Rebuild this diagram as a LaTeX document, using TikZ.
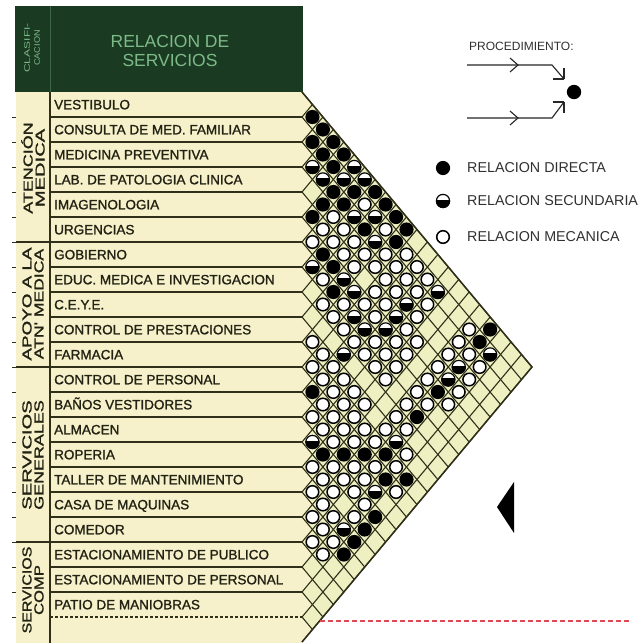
\documentclass[tikz,border=0pt]{standalone}
\usepackage{fontspec}
\setmainfont{Liberation Sans}
\newfontfamily\labelfont[FakeBold=1.3]{Liberation Sans}
\definecolor{hdr}{HTML}{1B3A22}
\definecolor{hdrtxt}{HTML}{7CBB88}
\definecolor{rowfill}{HTML}{F6F1CA}
\definecolor{matfill}{HTML}{EEF0C2}
\definecolor{lineol}{HTML}{30301A}
\definecolor{txt}{HTML}{222214}
\definecolor{legtxt}{HTML}{303030}
\definecolor{reddash}{HTML}{E04858}
\tikzset{
  rowtext/.style={anchor=base west, font=\labelfont\fontsize{13.5}{14}\selectfont, text=txt, inner sep=0pt},
  grouptext/.style={rotate=90, align=center, font=\labelfont\fontsize{13}{12}\selectfont, text=txt, inner sep=0pt},
  gridline/.style={draw=lineol, line width=1.1pt},
  legtext/.style={anchor=west, font=\fontsize{14.3}{15}\selectfont, text=legtxt, inner sep=0pt},
  arrowline/.style={draw=black!85, line width=1.1pt},
}
\newcommand\symB[2]{\fill[black] (#1,#2) circle (7.1);}
\newcommand\symW[2]{\filldraw[fill=white,draw=black,line width=1.5pt] (#1,#2) circle (6.3);}
\newcommand\symH[2]{\fill[black] (#1,#2) circle (7.1);
  \begin{scope}\clip (#1,#2) circle (7.1);
  \fill[white] ({#1-8},{#2-8}) rectangle ({#1+8},{#2-1.5});\end{scope}
  \draw[black,line width=1.1pt] (#1,#2) circle (6.6);}
\begin{document}
\begin{tikzpicture}[x=1pt,y=-1pt]
\useasboundingbox (0,0) rectangle (641,643);
\fill[white] (0,0) rectangle (641,643);
% header
\fill[hdr] (15,6) rectangle (303,92);
\draw[hdrtxt!35!hdr, line width=0.8pt] (50,6) -- (50,92);
\node[align=center, font=\fontsize{17.5}{18.5}\selectfont, text=hdrtxt] (title) at (170,51) {RELACION DE\\SERVICIOS};
\node[rotate=90, align=center, font=\fontsize{8}{10}\selectfont, text=hdrtxt, inner sep=0pt] (clasif) at (32,48) {\scalebox{1.5}[1]{CLASIFI-}\\\scalebox{1.15}[1]{CACION}};
% fills
\fill[rowfill] (16,92) rectangle (302,643);
\fill[matfill] (302,92) -- (532,367) -- (302,642) -- cycle;
\foreach \k in {0,...,21} \fill[rowfill] (302,{92+25*\k}) -- ++(10.45,12.5) -- ++(-10.45,12.5) -- cycle;
% row lines
\foreach \k in {1,...,20} \draw[gridline] (50,{92+25*\k}) -- (302,{92+25*\k});
\draw[gridline, dash pattern=on 3pt off 2pt] (50,617) -- (302,617);
\draw[gridline] (50,92) -- (50,643);
\foreach \yy in {242,367,542} \draw[gridline] (16,\yy) -- (50,\yy);
\foreach \k in {1,...,21} \draw[lineol, line width=0.7pt] (12,{92+25*\k}) -- (16,{92+25*\k});
% matrix grid
\foreach \k in {0,...,22} {
  \draw[gridline] (302,{92+25*\k}) -- ++({10.45*(22-\k)},{12.5*(22-\k)});
  \draw[gridline] (302,{92+25*\k}) -- ++({10.45*\k},{-12.5*\k});
}
\draw[lineol, line width=1.5pt] (302,92) -- (532,367) -- (302,642);
% group labels
\node[grouptext] (g1) at (33,168) {\scalebox{1.38}[1]{ATENCIÓN}\\\scalebox{1.55}[1]{MEDICA}};
\node[grouptext] (g2) at (33,304) {\scalebox{1.45}[1]{APOYO A LA}\\\scalebox{1.35}[1]{ATN' MEDICA}};
\node[grouptext] (g3) at (33,455) {\scalebox{1.55}[1]{SERVICIOS}\\\scalebox{1.38}[1]{GENERALES}};
\node[grouptext] (g4) at (33,590) {\scalebox{1.23}[1]{SERVICIOS}\\\scalebox{1.28}[1]{COMP}};
% row labels
\foreach \k/\t in {0/VESTIBULO,1/CONSULTA DE MED. FAMILIAR,2/MEDICINA PREVENTIVA,3/LAB. DE PATOLOGIA CLINICA,4/IMAGENOLOGIA,5/URGENCIAS,6/GOBIERNO,7/EDUC. MEDICA E INVESTIGACION,8/C.E.Y.E.,9/CONTROL DE PRESTACIONES,10/FARMACIA,11/CONTROL DE PERSONAL,12/BAÑOS VESTIDORES,13/ALMACEN,14/ROPERIA,15/TALLER DE MANTENIMIENTO,16/CASA DE MAQUINAS,17/COMEDOR,18/ESTACIONAMIENTO DE PUBLICO,19/ESTACIONAMIENTO DE PERSONAL,20/PATIO DE MANIOBRAS}
  \node[rowtext] (r\k) at (54,{92+25*\k+17.3}) {\t};
% symbols
\foreach \i/\j in {0/1,0/2,0/3,0/4,0/7,0/8,0/9,0/10,0/18,1/2,1/3,1/4,1/6,1/10,1/18,2/5,2/6,2/8,3/5,4/5,5/7,5/8,5/18,6/9,7/18,10/18,10/20,11/12,11/17,11/19,12/16,13/15,13/20,14/20,15/20,16/20}{
  \pgfmathsetmacro\cx{302+(\j-\i)*10.45}\pgfmathsetmacro\cy{92+(\i+\j+1)*12.5}\symB{\cx}{\cy}}
\foreach \i/\j in {0/5,0/6,1/5,1/8,1/14,1/19,2/3,2/4,2/7,2/9,3/13,3/18,4/13,4/18,5/9,5/10,5/13,6/7,6/11,6/12,8/12,9/18,12/19,13/14,15/19}{
  \pgfmathsetmacro\cx{302+(\j-\i)*10.45}\pgfmathsetmacro\cy{92+(\i+\j+1)*12.5}\symH{\cx}{\cy}}
\foreach \i/\j in {1/7,1/9,1/11,1/12,1/13,1/17,2/10,2/11,2/12,2/13,2/14,2/17,2/18,2/19,3/6,3/7,3/8,3/9,3/10,3/11,3/12,3/14,3/17,3/19,4/6,4/7,4/8,4/9,4/11,4/12,4/14,4/15,4/17,4/19,5/6,5/11,5/12,5/14,5/15,5/17,5/19,6/8,6/10,6/13,6/14,6/15,6/17,6/18,7/9,7/10,7/11,7/12,7/13,7/14,7/15,7/17,8/17,8/18,9/10,9/11,9/12,9/13,9/14,9/15,9/17,9/19,10/11,10/12,10/13,10/14,10/15,10/16,10/17,10/19,11/13,11/14,11/15,11/16,11/18,11/20,12/13,12/14,12/15,12/17,12/18,13/16,13/17,13/18,13/19,14/15,14/16,14/17,14/19,15/16,15/17,15/18,16/17,16/18,16/19,17/18,17/19}{
  \pgfmathsetmacro\cx{302+(\j-\i)*10.45}\pgfmathsetmacro\cy{92+(\i+\j+1)*12.5}\symW{\cx}{\cy}}
% legend: procedure
\node[anchor=west, font=\fontsize{12}{12}\selectfont, text=legtxt, inner sep=0pt] (proc) at (469,46) {PROCEDIMIENTO:};
\coordinate (a1s) at (467,65); \coordinate (a1m) at (552,65); \coordinate (a1e) at (564,79);
\coordinate (a2s) at (467,118); \coordinate (a2m) at (552,118); \coordinate (a2e) at (564,102);
\draw[arrowline] (a1s) -- (a1m) -- (a1e);
\draw[arrowline] (a1e) -- ++(-11,0); \draw[arrowline] (a1e) -- ++(0,-11);
\draw[arrowline] (510,58) .. controls (514,62) .. (518,65) .. controls (514,68) .. (510,72);
\draw[arrowline] (a2s) -- (a2m) -- (a2e);
\draw[arrowline] (a2e) -- ++(-11,0); \draw[arrowline] (a2e) -- ++(0,11);
\draw[arrowline] (510,111) .. controls (514,115) .. (518,118) .. controls (514,121) .. (510,125);
\fill[black] (574,92) circle (7.2);
% legend: symbols
\symB{443}{168}
\node[legtext] (lb) at (467,168) {RELACION DIRECTA};
\symH{443}{201}
\node[legtext] (lh) at (467,201) {RELACION SECUNDARIA};
\symW{443}{237}
\node[legtext] (lw) at (467,237) {RELACION MECANICA};
% black triangle
\fill[black] (514,482) -- (497,507) -- (514,533) -- cycle;
% red dashed line
\coordinate (rd1) at (320,621); \coordinate (rd2) at (630,621);
\draw[reddash, line width=1.4pt, dash pattern=on 5pt off 3pt] (rd1) -- (rd2);
\end{tikzpicture}
\end{document}
